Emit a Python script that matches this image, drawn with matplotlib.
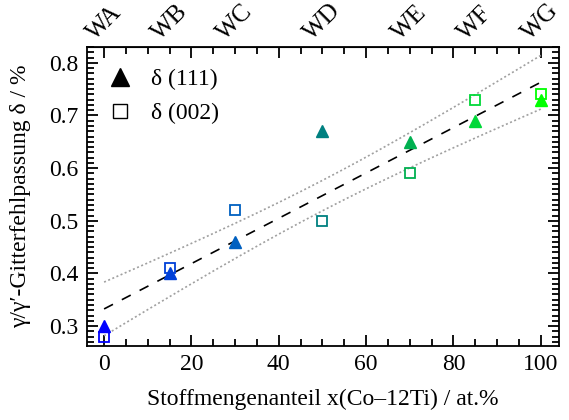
import numpy as np
import matplotlib.pyplot as plt
from matplotlib.ticker import MultipleLocator

plt.rcParams['font.family'] = ['Liberation Serif', 'DejaVu Serif']

# alloy series and composition
alloys = ['WA', 'WB', 'WC', 'WD', 'WE', 'WF', 'WG']
x_co12ti = [0, 15, 30, 50, 70, 85, 100]
# lattice misfit from the two reflections
delta_111 = [0.30, 0.40, 0.46, 0.67, 0.65, 0.69, 0.73]
delta_002 = [0.28, 0.41, 0.52, 0.50, 0.59, 0.73, 0.74]
colors = ['#0000ff', '#0040d8', '#0060c0', '#008080', '#00b050', '#00d838', '#00ff00']

fig = plt.figure(figsize=(5.69, 4.2), dpi=100)
ax = fig.add_axes([0.153, 0.176, 0.829, 0.712])

# linear fit over both reflections with 95 % confidence band
xa = np.array(x_co12ti * 2, dtype=float)
ya = np.array(delta_111 + delta_002)
k, d = np.polyfit(xa, ya, 1)
n = len(xa)
res = ya - (k * xa + d)
s = np.sqrt(np.sum(res ** 2) / (n - 2))
t95 = 2.179
xf = np.linspace(0, 100, 200)
yf = k * xf + d
band = t95 * s * np.sqrt(1 / n + (xf - xa.mean()) ** 2 / np.sum((xa - xa.mean()) ** 2))

ax.plot(xf, yf, color='black', lw=1.2, dashes=(6, 6), zorder=2)
ax.plot(xf, yf + band, color='#a0a0a0', lw=1.2, ls=(0, (1.2, 1.5)), zorder=2)
ax.plot(xf, yf - band, color='#a0a0a0', lw=1.2, ls=(0, (1.2, 1.5)), zorder=2)

for xi, y1, y2, c in zip(x_co12ti, delta_111, delta_002, colors):
    ax.plot(xi, y2, marker='s', ms=7, mfc='none', mec=c, mew=1.3, ls='none', zorder=3)
    ax.plot(xi, y1, marker='^', ms=9, color=c, ls='none', zorder=4)

# legend entries in black
ax.plot([], [], marker='^', ms=13, color='black', ls='none', label='δ (111)')
ax.plot([], [], marker='s', ms=10, mfc='none', mec='black', mew=1.0, ls='none', label='δ (002)')
ax.legend(loc='upper left', frameon=False, fontsize=17, handletextpad=0.3,
          borderaxespad=0.0, labelspacing=0.55, bbox_to_anchor=(0.0, 0.96))

ax.set_xlim(-3.9, 104.1)
ax.set_ylim(0.262, 0.83)
ax.xaxis.set_major_locator(MultipleLocator(20))
ax.xaxis.set_minor_locator(MultipleLocator(5))
ax.yaxis.set_major_locator(MultipleLocator(0.1))
ax.yaxis.set_minor_locator(MultipleLocator(0.01))
ax.tick_params(which='both', direction='in', top=True, right=True, width=1.3, labelsize=17)
ax.tick_params(which='major', length=8, pad=6)
ax.tick_params(which='minor', length=5)
for sp in ax.spines.values():
    sp.set_linewidth(1.3)

ax.set_xlabel('Stoffmengenanteil x(Co–12Ti) / at.%', fontsize=17, labelpad=10)
ax.set_ylabel('γ/γ′-Gitterfehlpassung δ / %', fontsize=17, labelpad=13)

top = ax.secondary_xaxis('top')
top.set_xticks(x_co12ti)
top.set_xticklabels(alloys, rotation=45, ha='center', va='bottom', fontsize=18)
top.tick_params(length=0, pad=2)

fig.savefig('out.png', dpi=100)
